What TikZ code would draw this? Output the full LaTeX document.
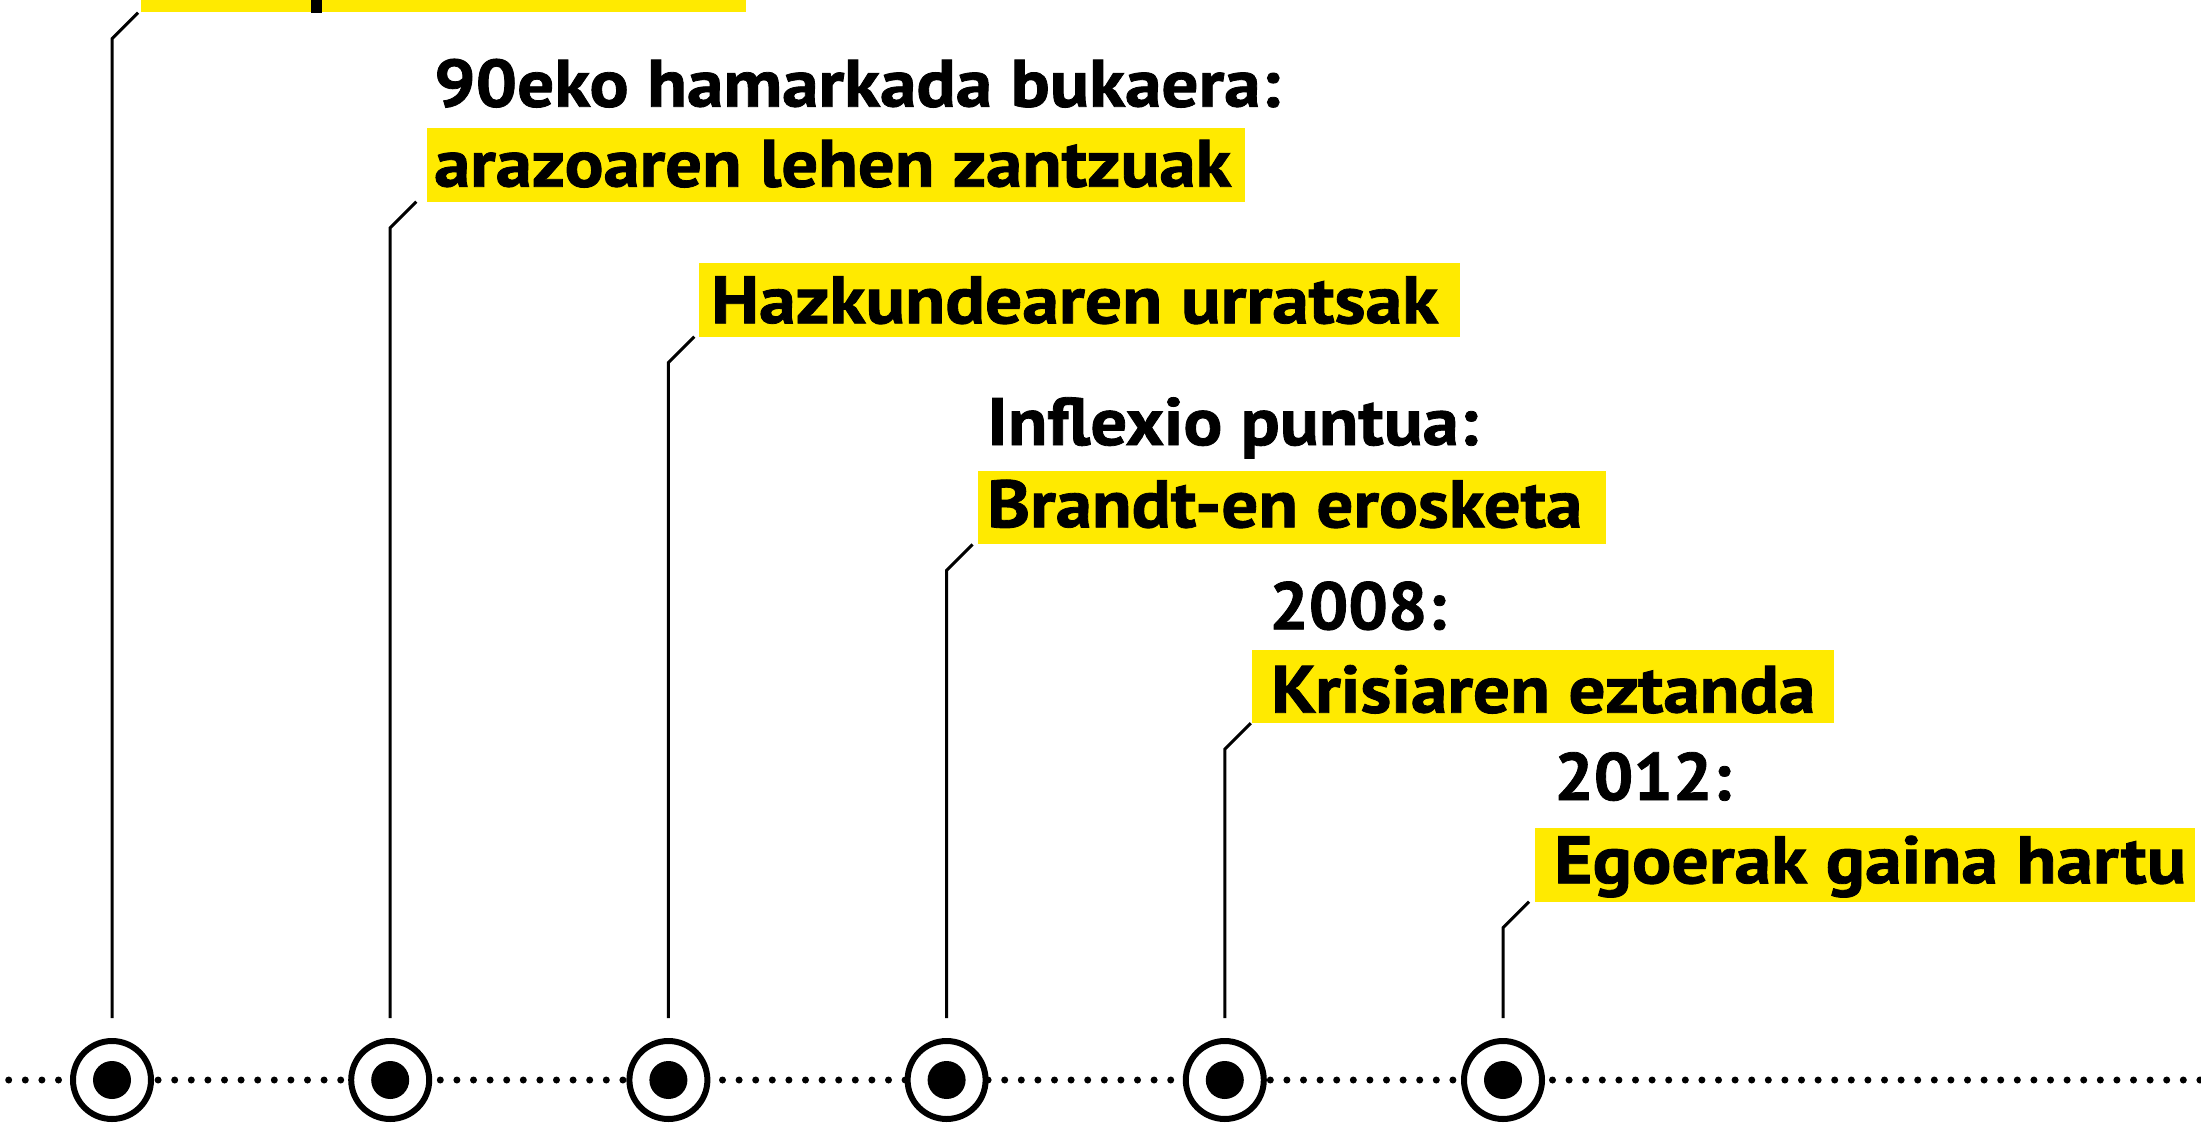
\documentclass[tikz,border=0pt]{standalone}
\usepackage{fontspec}
\setmainfont{PT Sans}[BoldFeatures={FakeBold=1.2}]
\usetikzlibrary{calc}
\definecolor{ylw}{RGB}{255,234,0}
\newcommand\fitw[2]{\resizebox{#1}{\height}{#2}}
\tikzset{
  ybox/.style={fill=ylw, inner sep=0pt, minimum height=73.5pt, anchor=south west},
  lbl/.style={inner sep=0pt, anchor=base west, font=\fontsize{67}{80}\selectfont\bfseries},
  ring/.style={circle, draw=black, fill=white, line width=6pt, minimum size=78pt, inner sep=0pt},
  hub/.style={circle, fill=black, minimum size=38pt, inner sep=0pt},
  conn/.style={line width=3pt, draw=black},
  dotline/.style={line width=7pt, line cap=round, dash pattern=on 0pt off 16.6pt},
}
\begin{document}
\begin{tikzpicture}[x=1pt,y=-1pt]
\clip (0,0) rectangle (2201,1129);
\fill[white] (0,0) rectangle (2201,1129);

% yellow boxes
\node[ybox, minimum width=605pt]   (b1) at (141,12.7)   {};
\node[ybox, minimum width=818pt]   (b2) at (427,201.7)  {};
\node[ybox, minimum width=761pt]   (b3) at (699,336.7)  {};
\node[ybox, minimum width=628pt]   (b4) at (978,544.5)  {};
\node[ybox, minimum width=582.5pt] (b5) at (1251.5,723.3) {};
\node[ybox, minimum width=660pt]   (b6) at (1535,901.7) {};

% fragment of cut-off first label
\fill[black] (311,0) rectangle (322,13.3);

% labels
\node[lbl] (h2) at (434,106.7) {\fitw{846pt}{90eko hamarkada bukaera:}};
\node[lbl] (t2) at (434,186.7) {\fitw{797pt}{arazoaren lehen zantzuak}};
\node[lbl] (t3) at (711,323.3) {\fitw{727pt}{Hazkundearen urratsak}};
\node[lbl] (h4) at (987,445)   {\fitw{491pt}{Inflexio puntua:}};
\node[lbl] (t4) at (987,527.3) {\fitw{595pt}{Brandt-en erosketa}};
\node[lbl] (h5) at (1269,629.3) {\fitw{177pt}{2008:}};
\node[lbl] (t5) at (1271,712.7) {\fitw{544pt}{Krisiaren eztanda}};
\node[lbl] (h6) at (1554,800)  {\fitw{177pt}{2012:}};
\node[lbl] (t6) at (1554,883.3) {\fitw{632pt}{Egoerak gaina hartu}};

% timeline
\coordinate (tlA) at (8.7,1080);
\coordinate (tlB) at (2201,1080);
\draw[dotline] (tlA) -- (tlB);

\foreach \i/\x in {1/112,2/390.2,3/668.4,4/946.6,5/1224.8,6/1503}{
  \node[ring] (c\i) at (\x,1080) {};
  \node[hub] (d\i) at (c\i) {};
}

% connectors
\foreach \i in {1,...,6}{
  \draw[conn] ([yshift=20pt]c\i.north)
     -- ($(c\i |- b\i.south)+(0,-26pt)$)
     -- ($(c\i |- b\i.south)+(26pt,0)$);
}
\end{tikzpicture}
\end{document}
